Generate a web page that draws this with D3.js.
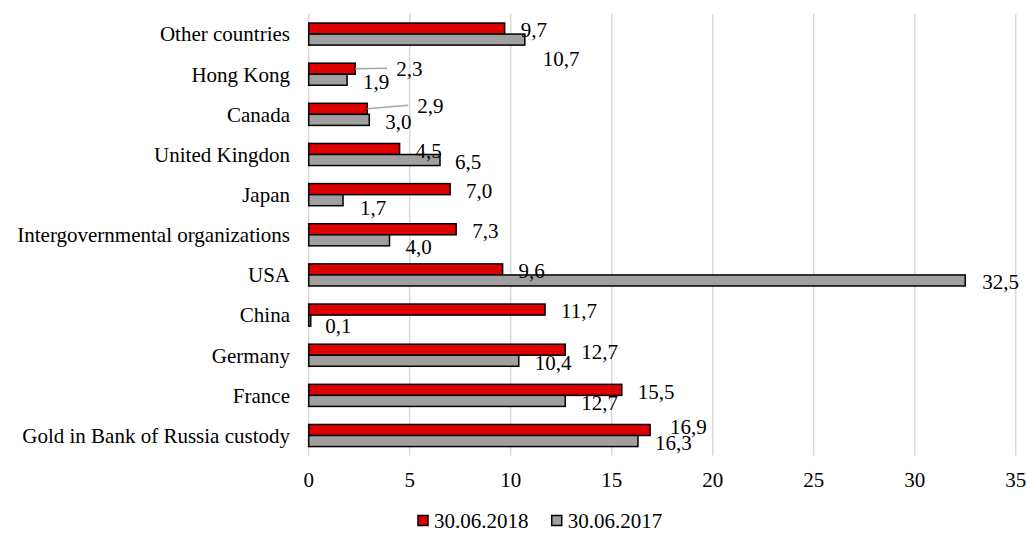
<!DOCTYPE html>
<html>
<head>
<meta charset="utf-8">
<script src="https://cdn.jsdelivr.net/npm/d3@7"></script>
<style>
  html, body { margin: 0; padding: 0; background: #fff; }
</style>
</head>
<body>
<svg id="chart" width="1027" height="533"></svg>
<script>
// ---- data ----
const categories = [
  "Other countries", "Hong Kong", "Canada", "United Kingdon", "Japan",
  "Intergovernmental organizations", "USA", "China", "Germany", "France",
  "Gold in Bank of Russia custody"
];
const series2018 = [9.7, 2.3, 2.9, 4.5, 7.0, 7.3, 9.6, 11.7, 12.7, 15.5, 16.9];
const series2017 = [10.7, 1.9, 3.0, 6.5, 1.7, 4.0, 32.5, 0.1, 10.4, 12.7, 16.3];
const seriesNames = ["30.06.2018", "30.06.2017"];
const xTicks = [0, 5, 10, 15, 20, 25, 30, 35];

// ---- layout: manual label nudges (px) as in the original chart ----
const nudge2018 = [[0,0],[25,-2],[34,-5],[0,0],[0,0],[0,0],[0,0],[0,0],[0,0],[0,0],[4,-5]];
const nudge2017 = [[2,17.5],[0,0],[0,0],[-1,0],[1,5.5],[0,5],[1,0],[-1.5,3.5],[0,0],[0,0],[1,0]];
const leader2018 = [false,true,true,false,false,false,false,false,false,false,false];

const FONTFAM = "'Liberation Serif'";
const svg = d3.select("#chart");
const margin = { left: 308.7, right: 1015.7, top: 14, bottom: 455.6 };

const x = d3.scaleLinear().domain([0, 35]).range([margin.left, margin.right]);
const y = d3.scaleBand().domain(categories).range([margin.top, margin.bottom])
  .paddingInner(0.45).paddingOuter(0.225);
const sub = d3.scaleBand().domain(seriesNames).range([0, y.bandwidth()]);

const colors = { "30.06.2018": "#dd0000", "30.06.2017": "#a0a0a0" };
const FONT = 21;

function txt(sel) {
  return sel.attr("font-size", FONT).attr("fill", "#000").style("font-family", FONTFAM);
}

// gridlines
svg.append("g").selectAll("line").data(xTicks).join("line")
  .attr("x1", d => x(d)).attr("x2", d => x(d))
  .attr("y1", margin.top).attr("y2", margin.bottom)
  .attr("stroke", "#d9d9d9").attr("stroke-width", 1.5);

// x tick labels
txt(svg.append("g").selectAll("text").data(xTicks).join("text")
  .attr("x", d => x(d)).attr("y", 480).attr("dy", "0.35em")
  .attr("text-anchor", "middle"))
  .text(d => d);

// category labels
txt(svg.append("g").selectAll("text").data(categories).join("text")
  .attr("x", 290).attr("y", d => y(d) + y.bandwidth() / 2).attr("dy", "0.35em")
  .attr("text-anchor", "end"))
  .text(d => d);

const seriesList = [
  { name: seriesNames[0], values: series2018, nudge: nudge2018 },
  { name: seriesNames[1], values: series2017, nudge: nudge2017 }
];

const fmt = v => v.toFixed(1).replace(".", ",");

seriesList.forEach(s => {
  const rows = categories.map((c, i) => ({ c, v: s.values[i], i }));
  svg.append("g").selectAll("rect").data(rows).join("rect")
    .attr("x", x(0))
    .attr("y", d => y(d.c) + sub(s.name))
    .attr("width", d => x(d.v) - x(0))
    .attr("height", sub.bandwidth())
    .attr("fill", colors[s.name])
    .attr("stroke", "#000").attr("stroke-width", 1.5);
});

// leader lines
const lg = svg.append("g");
categories.forEach((c, i) => {
  if (!leader2018[i]) return;
  const cy = y(c) + sub(seriesNames[0]) + sub.bandwidth() / 2;
  const lx = x(series2018[i]) + 16 + nudge2018[i][0];
  const ly = cy + 1.5 + nudge2018[i][1];
  lg.append("line")
    .attr("x1", x(series2018[i])).attr("y1", cy)
    .attr("x2", lx - 9).attr("y2", ly)
    .attr("stroke", "#a6a6a6").attr("stroke-width", 1.5);
});

// value labels
seriesList.forEach(s => {
  const rows = categories.map((c, i) => ({ c, v: s.values[i], i }));
  txt(svg.append("g").selectAll("text").data(rows).join("text")
    .attr("x", d => x(d.v) + 16 + s.nudge[d.i][0])
    .attr("y", d => y(d.c) + sub(s.name) + sub.bandwidth() / 2 + 1.5 + s.nudge[d.i][1])
    .attr("dy", "0.35em")
    .attr("text-anchor", "start"))
    .text(d => fmt(d.v));
});

// legend
const legend = svg.append("g");
const legendX = [418, 551.7];
seriesNames.forEach((n, i) => {
  legend.append("rect")
    .attr("x", legendX[i]).attr("y", 515.5).attr("width", 10).attr("height", 10)
    .attr("fill", colors[n]).attr("stroke", "#000").attr("stroke-width", 1.5);
  txt(legend.append("text")
    .attr("x", legendX[i] + 16).attr("y", 520.5).attr("dy", "0.35em"))
    .text(n);
});
</script>
</body>
</html>
